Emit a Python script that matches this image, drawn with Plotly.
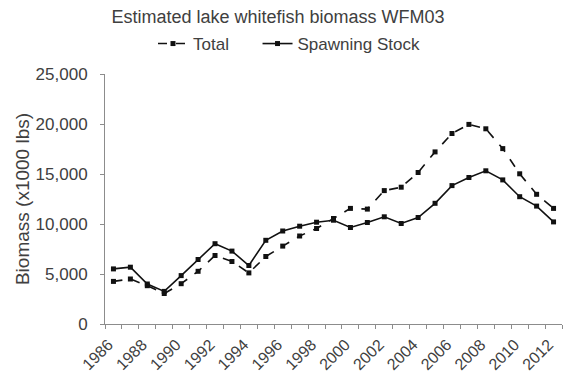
import plotly.graph_objects as go

years = list(range(1986, 2013))
total = [4260, 4500, 3830, 3050, 4030, 5270, 6850, 6250, 5110, 6750, 7790, 8800, 9550,
         10550, 11560, 11490, 13340, 13680, 15150, 17210, 19050, 19960, 19520, 17540,
         15020, 12970, 11560]
spawning = [5510, 5680, 4000, 3260, 4840, 6450, 8030, 7290, 5850, 8370, 9300, 9780, 10180,
            10380, 9650, 10150, 10720, 10050, 10650, 12070, 13840, 14650, 15320, 14410,
            12730, 11790, 10210]
tick_years = list(range(1986, 2013, 2))
y_ticks = [0, 5000, 10000, 15000, 20000, 25000]

FONT = "Liberation Sans, Arial, sans-serif"
TXT = "#404040"
AX = "#8c8c8c"
W, H = 563, 381
PAD = "\u00a0" * 5

fig = go.Figure()
fig.add_trace(go.Scatter(
    x=years, y=total, name="Total" + PAD, mode="lines+markers",
    line=dict(color="#111111", width=1.6, dash="dash"),
    marker=dict(symbol="square", size=5, color="#111111"),
))
fig.add_trace(go.Scatter(
    x=years, y=spawning, name="Spawning Stock", mode="lines+markers",
    line=dict(color="#111111", width=1.6),
    marker=dict(symbol="square", size=5, color="#111111"),
))

fig.update_layout(
    width=W, height=H,
    margin=dict(l=105, r=1, t=74, b=57, autoexpand=False),
    paper_bgcolor="white", plot_bgcolor="white",
    font=dict(family=FONT, color=TXT, size=16),
    title=dict(text="Estimated lake whitefish biomass WFM03", x=278 / W, xref="container",
               xanchor="center", y=1 - 17 / H, yref="container", yanchor="middle",
               font=dict(size=18, color=TXT)),
    showlegend=True,
    legend=dict(orientation="h", x=153 / W, xref="container", xanchor="left",
                y=1 - 44 / H, yref="container", yanchor="middle",
                font=dict(size=17, color=TXT), itemwidth=30,
                bgcolor="rgba(0,0,0,0)"),
)

fig.update_xaxes(
    range=[1985.5, 2012.5], tickmode="array", tickvals=tick_years,
    ticktext=[str(y) for y in tick_years], tickangle=-45, automargin=False,
    ticks="", showgrid=False, zeroline=False,
    showline=True, linecolor=AX, linewidth=1,
    tickfont=dict(size=16, color=TXT), ticklabelshift=-5, ticklabelstandoff=4,
    minor=dict(tick0=1985.5, dtick=1, ticks="outside", ticklen=4, tickcolor=AX, showgrid=False),
)
fig.update_yaxes(
    range=[0, 25000], tickmode="array", tickvals=y_ticks, automargin=False,
    tickformat=",", ticks="outside", ticklen=4, tickcolor=AX, ticklabelstandoff=9,
    showgrid=False, zeroline=False, showline=True, linecolor=AX, linewidth=1,
    tickfont=dict(size=17, color=TXT),
    title=dict(text="Biomass (x1000 lbs)", font=dict(size=19, color=TXT), standoff=0),
)

fig.write_html("out.html", config={"displayModeBar": False},
               post_script="document.body.style.margin='0';")
